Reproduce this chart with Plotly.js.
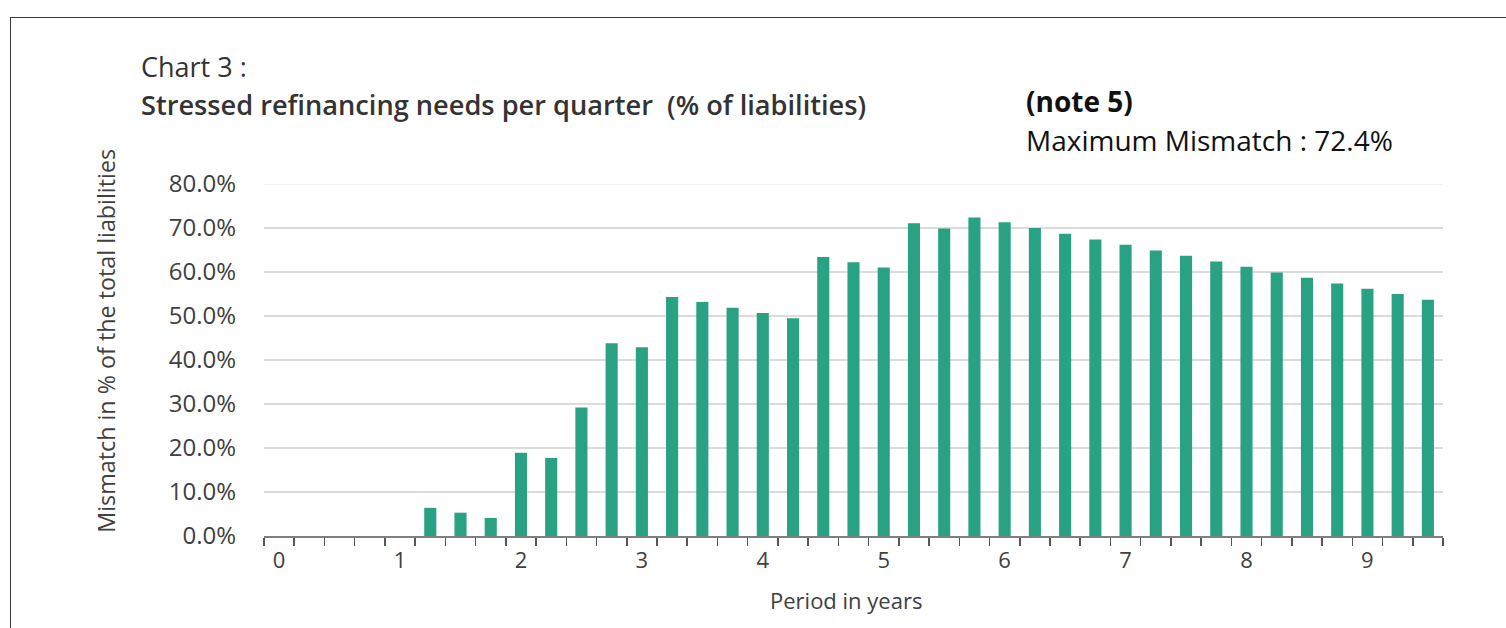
<!DOCTYPE html>
<html>
<head>
<meta charset="utf-8">
<script src="https://cdn.plot.ly/plotly-3.0.1.min.js"></script>
<style>
html,body{margin:0;padding:0;background:#fff;overflow:hidden;}
#frame{position:absolute;left:10px;top:17px;width:1520px;height:700px;border:1.5px solid #3a3a3a;box-sizing:border-box;pointer-events:none;z-index:5;}
#chart{position:absolute;left:0;top:0;width:1506px;height:628px;}
</style>
</head>
<body>
<div id="chart"></div>
<div id="frame"></div>
<script>
// Period in years (quarterly)
const periods = [0,0.25,0.5,0.75,1,1.25,1.5,1.75,2,2.25,2.5,2.75,3,3.25,3.5,3.75,4,4.25,4.5,4.75,5,5.25,5.5,5.75,6,6.25,6.5,6.75,7,7.25,7.5,7.75,8,8.25,8.5,8.75,9,9.25,9.5];
// Mismatch in % of the total liabilities
const mismatch = [0,0,0,0,0,6.4,5.3,4.1,18.9,17.7,29.2,43.8,42.9,54.3,53.2,51.9,50.7,49.5,63.4,62.2,61.0,71.1,69.9,72.4,71.3,70.0,68.7,67.4,66.2,64.9,63.7,62.4,61.2,59.9,58.7,57.4,56.2,55.0,53.7];
const yearTicks = [0,1,2,3,4,5,6,7,8,9];
const yTicks = [0,10,20,30,40,50,60,70,80];
const yTickText = ["0.0%","10.0%","20.0%","30.0%","40.0%","50.0%","60.0%","70.0%","80.0%"];

const W = 1506, H = 628;
const L = 264, R = 1443, T = 184, B = 536.5;
const px = v => (v - L) / (R - L);
const py = v => (B - v) / (B - T);

const FONT = "Open Sans, Noto Sans, sans-serif";
const GREY = "#404040";

const trace = {
  type: "bar",
  x: periods,
  y: mismatch,
  marker: {color: "#28a282", line: {width: 0}},
  hoverinfo: "x+y"
};

const layout = {
  width: W, height: H,
  margin: {l: L, r: W - R, t: T, b: H - B, pad: 0},
  paper_bgcolor: "#fff",
  plot_bgcolor: "#fff",
  showlegend: false,
  bargap: 0.6,
  font: {family: FONT, color: GREY, size: 22},
  xaxis: {
    range: [-0.125, 9.625],
    tickmode: "array",
    tickvals: yearTicks,
    ticktext: yearTicks.map(String),
    ticks: "",
    showgrid: false,
    zeroline: false,
    showline: true,
    linecolor: "#7f7f7f",
    linewidth: 2,
    tickfont: {family: FONT, size: 22, color: GREY},
    ticklabelstandoff: 4,
    minor: {tick0: -0.125, dtick: 0.25, ticks: "outside", ticklen: 8, tickwidth: 1.5, tickcolor: "#555", showgrid: false},
    fixedrange: true
  },
  yaxis: {
    range: [0, 80],
    tickmode: "array",
    tickvals: yTicks,
    ticktext: yTickText,
    ticks: "",
    showgrid: true,
    gridcolor: "#dcdcdc",
    gridwidth: 1.5,
    zeroline: false,
    showline: false,
    tickfont: {family: FONT, size: 24, color: GREY},
    ticklabelstandoff: 27,
    fixedrange: true
  },
  shapes: [
    {type: "line", xref: "paper", yref: "y", x0: 0, x1: 1, y0: 80, y1: 80, layer: "below", line: {color: "#f2f2f2", width: 2}}
  ],
  annotations: [
    {text: "Chart 3 :", xref: "paper", yref: "paper", x: px(139), y: py(66), xanchor: "left", yanchor: "middle", showarrow: false, font: {family: FONT, size: 27, color: "#333"}},
    {text: "Stressed refinancing needs per quarter  (% of liabilities)", xref: "paper", yref: "paper", x: px(139), y: py(104), xanchor: "left", yanchor: "middle", showarrow: false, font: {family: FONT, size: 27.2, weight: 600, color: "#333"}},
    {text: "<b>(note 5)</b>", xref: "paper", yref: "paper", x: px(1024), y: py(101), xanchor: "left", yanchor: "middle", showarrow: false, font: {family: FONT, size: 28, color: "#111"}},
    {text: "Maximum Mismatch : 72.4%", xref: "paper", yref: "paper", x: px(1024), y: py(140), xanchor: "left", yanchor: "middle", showarrow: false, font: {family: FONT, size: 28, color: "#111"}},
    {text: "Period in years", xref: "paper", yref: "paper", x: px(846), y: py(601), xanchor: "center", yanchor: "middle", showarrow: false, font: {family: FONT, size: 22, color: GREY}},
    {text: "Mismatch in % of the total liabilities", xref: "paper", yref: "paper", x: px(106), y: py(341), xanchor: "center", yanchor: "middle", textangle: -90, showarrow: false, font: {family: FONT, size: 23.3, color: GREY}}
  ]
};

Plotly.newPlot("chart", [trace], layout, {displayModeBar: false, staticPlot: true});
</script>
</body>
</html>
